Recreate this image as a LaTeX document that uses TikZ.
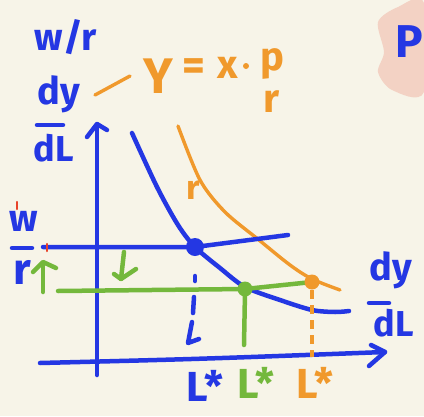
\documentclass[tikz,border=0pt]{standalone}
\usepackage{fontspec}
\setmainfont{Fira Sans}
\definecolor{bg}{HTML}{F7F4E8}
\definecolor{hblue}{HTML}{2437E3}
\definecolor{horange}{HTML}{F0992C}
\definecolor{hgreen}{HTML}{74B83C}
\definecolor{hred}{HTML}{E8432A}
\definecolor{hpink}{HTML}{F3D2C4}
\newcommand{\hsz}[1]{\fontsize{#1}{#1}\selectfont\bfseries}
\begin{document}
\begin{tikzpicture}[x=1pt,y=-1pt,
  bl/.style={draw=hblue,line width=4.5pt,line cap=round,line join=round},
  ol/.style={draw=horange,line width=3.4pt,line cap=round,line join=round},
  gl/.style={draw=hgreen,line width=4.5pt,line cap=round,line join=round},
  rl/.style={draw=hred,line width=2.5pt,line cap=round},
  btxt/.style={text=hblue,inner sep=0pt},
  otxt/.style={text=horange,inner sep=0pt},
  gtxt/.style={text=hgreen,inner sep=0pt}]
\fill[bg] (0,0) rectangle (424,416);
\useasboundingbox (0,0) rectangle (424,416);
% pink blob and P
\fill[hpink] plot[smooth cycle] coordinates {(378,22) (398,7) (424,3) (424,92) (392,90) (378,72) (384,52)};
\node[btxt,font=\hsz{46}] (P) at (409,42) {P};
% top-left labels
\node[btxt,font=\hsz{38}] (wr) at (66,37) {w/r};
\node[btxt,font=\hsz{38}] (dy1) at (59,94) {dy};
\draw[bl] (37,125) -- (63,125);
\node[btxt,font=\hsz{36}] (dL1) at (54,148) {dL};
% orange formula
\coordinate (dashA) at (95,95);
\coordinate (dashB) at (130,76);
\draw[ol] (dashA) -- (dashB);
\node[otxt,font=\hsz{50}] (Y) at (158,76) {Y};
\node[otxt,font=\hsz{44}] (eq) at (194,70) {=};
\node[otxt,font=\hsz{40}] (x) at (228,68) {x};
\fill[horange] (246,66) circle (3);
\node[otxt,font=\hsz{40}] (p) at (272,64) {p};
\node[otxt,font=\hsz{40}] (r) at (272,102) {r};
% axes
\coordinate (O) at (97,362);
\coordinate (ytop) at (97,124);
\coordinate (xend) at (385,352);
\draw[bl] (97,375) -- (ytop);
\draw[bl] (87,137) -- (ytop) -- (107,130);
\draw[bl] (40,363) .. controls (200,359) .. (xend);
\draw[bl] (371,345) -- (xend) -- (369,366);
% curves
\draw[bl] plot[smooth] coordinates {(132,133) (157,187) (178,225) (195,247) (220,268) (245,287) (280,300) (312,310) (335,312) (349,311)};
\draw[ol] plot[smooth] coordinates {(178,126) (200,180) (225,212) (259,240) (290,265) (312,279) (340,290)};
\node[otxt,font=\hsz{34}] (rlab) at (193,190) {r};
% horizontal lines
\coordinate (Eb) at (195,247);
\coordinate (Eg) at (245,289);
\coordinate (Eo) at (312,282);
\draw[bl] (43,247) -- (Eb) -- (288,235);
\draw[gl] (58,291) -- (Eg) -- (Eo);
% dots
\fill[hblue] (Eb) circle (9);
\fill[hgreen] (Eg) circle (7.5);
\fill[horange] (Eo) circle (7.5);
% verticals
\draw[gl] (245,292) -- (244,345);
\draw[draw=horange,line width=3.2pt,dash pattern=on 9pt off 6pt] (312,290) -- (312,357);
\draw[bl] (195,276) -- (195,281);
\draw[bl] (194,297) -- (193,313);
\draw[bl] (192,322) -- (188,343) -- (199,339);
% bottom labels
\node[btxt,font=\hsz{42}] (L1) at (205,386) {L*};
\node[gtxt,font=\hsz{42}] (L2) at (256,383) {L*};
\node[otxt,font=\hsz{42}] (L3) at (315,383) {L*};
% left labels
\node[btxt,font=\hsz{38}] (w) at (24,221) {w};
\draw[rl] (17,202) -- (17,209);
\draw[bl] (12,248) -- (32,248);
\node[btxt,font=\hsz{44}] (rr) at (22,272) {r};
\draw[gl] (43,263) -- (43,292);
\draw[gl] (33,272) -- (43,262) -- (56,268);
\draw[rl] (47,244) -- (47,251);
\draw[gl] (124,252) -- (121,279);
\draw[gl] (114,274) -- (121,279) -- (136,269);
% right label
\node[btxt,font=\hsz{38}] (dy2) at (391,270) {dy};
\draw[bl] (369,303) -- (389,303);
\node[btxt,font=\hsz{36}] (dL2) at (394,323) {dL};
\end{tikzpicture}
\end{document}
